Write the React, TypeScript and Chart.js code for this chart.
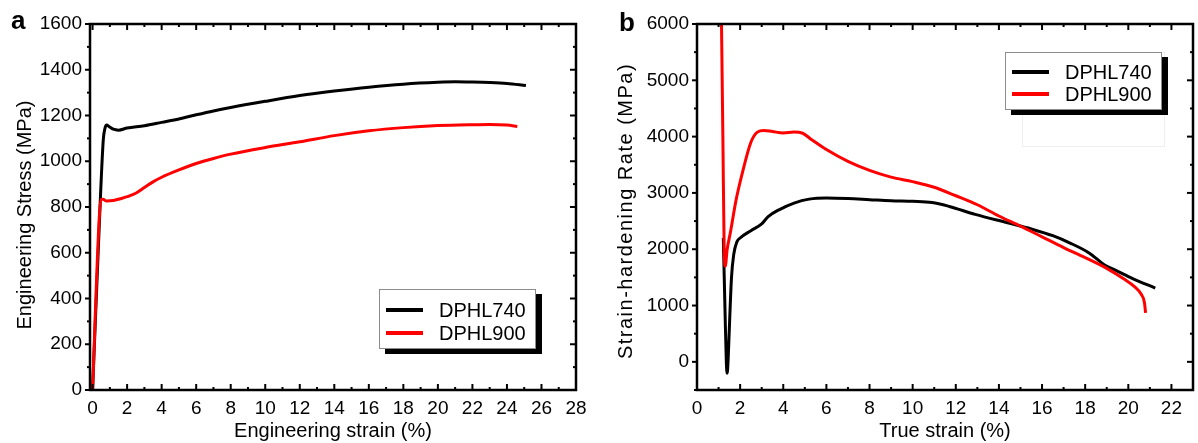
import React, { useEffect, useRef } from "react";
import { Chart, registerables } from "chart.js";

Chart.register(...registerables);

const FONT = "'Liberation Sans', Arial, Helvetica, sans-serif";

const seriesNames = ["DPHL740", "DPHL900"];
const seriesColors = ["#000000", "#ff0000"];

// ---- Panel a: engineering stress-strain ----
const engStrainTicks = [0, 2, 4, 6, 8, 10, 12, 14, 16, 18, 20, 22, 24, 26, 28];
const engStressTicks = [0, 200, 400, 600, 800, 1000, 1200, 1400, 1600];
const dphl740EngStrain = [0, 0.43, 0.62, 0.72, 0.82, 0.95, 1.2, 1.5, 2, 3, 4, 5, 6, 7, 8, 10, 12, 14, 16, 18, 20, 21, 22, 23, 24, 25.1];
const dphl740EngStress = [0, 800, 1094, 1145, 1158, 1152, 1140, 1136, 1145, 1155, 1170, 1185, 1203, 1220, 1235, 1262, 1287, 1307, 1324, 1337, 1345, 1347, 1346, 1344, 1340, 1331];
const dphl900EngStrain = [0, 0.38, 0.5, 0.6, 0.8, 1.2, 1.6, 2, 2.5, 3, 3.5, 4, 5, 6, 7, 8, 10, 12, 14, 16, 18, 20, 22, 23, 24, 24.6];
const dphl900EngStress = [0, 744, 832, 834, 826, 828, 836, 845, 860, 885, 910, 930, 962, 990, 1012, 1031, 1060, 1085, 1112, 1133, 1147, 1156, 1160, 1161, 1158, 1152];

// ---- Panel b: strain-hardening rate ----
const trueStrainTicks = [0, 2, 4, 6, 8, 10, 12, 14, 16, 18, 20, 22];
const hardeningTicks = [0, 1000, 2000, 3000, 4000, 5000, 6000];
const dphl740TrueStrain = [1.22, 1.3, 1.36, 1.4, 1.45, 1.52, 1.6, 1.7, 1.85, 2.0, 2.5, 3.0, 3.3, 3.8, 4.5, 5.2, 6.0, 7, 8, 9, 10, 10.9, 11.7, 12.9, 14.4, 15.5, 16.5, 17.3, 18.2, 18.9, 19.4, 20.2, 21.25];
const dphl740Hardening = [2200, 900, 0, -200, 100, 800, 1500, 1900, 2130, 2200, 2330, 2450, 2580, 2700, 2820, 2890, 2910, 2900, 2880, 2860, 2850, 2830, 2760, 2620, 2470, 2360, 2240, 2110, 1930, 1720, 1630, 1480, 1310];
const dphl900TrueStrain = [1.12, 1.2, 1.26, 1.31, 1.4, 1.55, 1.8, 2.1, 2.5, 2.8, 3.1, 3.5, 4.0, 4.5, 4.9, 5.3, 6, 7, 8, 9, 10, 11, 12, 13, 14, 15, 16, 17, 18, 19, 19.8, 20.3, 20.6, 20.75, 20.8];
const dphl900Hardening = [6500, 4000, 2000, 1700, 2000, 2300, 2850, 3350, 3900, 4080, 4110, 4090, 4065, 4080, 4060, 3950, 3770, 3560, 3400, 3280, 3200, 3100, 2950, 2790, 2590, 2410, 2220, 2030, 1850, 1660, 1470, 1330, 1200, 1050, 870];

const makePoints = (xs: number[], ys: number[]) => xs.map((x, i) => ({ x, y: ys[i] }));

const framePlugin = {
  id: "frameTicks",
  afterDatasetsDraw(chart: any, _args: any, o: any) {
    const { ctx, chartArea } = chart;
    const { left, right, top, bottom } = chartArea;
    const xs = chart.scales.x;
    const ys = chart.scales.y;
    ctx.save();
    ctx.strokeStyle = "#000";
    ctx.lineCap = "butt";
    const seg = (x1: number, y1: number, x2: number, y2: number) => {
      ctx.beginPath();
      ctx.moveTo(x1, y1);
      ctx.lineTo(x2, y2);
      ctx.stroke();
    };
    ctx.lineWidth = 2;
    // x ticks (inward on bottom & top)
    for (let v = o.xFrom; v <= o.xTo + 1e-9; v += o.xMinor) {
      const p = xs.getPixelForValue(v);
      if (p < left - 0.5 || p > right + 0.5) continue;
      const major = Math.abs(v / o.xMajor - Math.round(v / o.xMajor)) < 1e-6;
      const len = major ? 6 : 3;
      seg(p, bottom, p, bottom - len);
      seg(p, top, p, top + len);
    }
    // y ticks: outward on left, inward on right
    for (let v = o.yFrom; v <= o.yTo + 1e-9; v += o.yMinor) {
      const p = ys.getPixelForValue(v);
      if (p < top - 0.5 || p > bottom + 0.5) continue;
      const major = Math.abs(v / o.yMajor - Math.round(v / o.yMajor)) < 1e-6;
      seg(left - (major ? 5 : 3), p, left, p);
      seg(right, p, right - (major ? 6 : 3), p);
    }
    ctx.lineWidth = 2.5;
    ctx.strokeRect(left, top, right - left, bottom - top);

    // y title
    ctx.fillStyle = "#000";
    ctx.font = `20px ${FONT}`;
    ctx.save();
    ctx.translate(o.yTitleX, o.yTitleY);
    ctx.rotate(-Math.PI / 2);
    ctx.textAlign = "center";
    ctx.textBaseline = "middle";
    if ("letterSpacing" in ctx) (ctx as any).letterSpacing = o.yTitleSpacing;
    ctx.fillText(o.yTitle, 0, 0);
    if ("letterSpacing" in ctx) (ctx as any).letterSpacing = "0px";
    ctx.restore();

    // panel label
    ctx.font = `bold 26px ${FONT}`;
    ctx.textAlign = "left";
    ctx.textBaseline = "alphabetic";
    ctx.fillText(o.panel, o.panelX, o.panelY);

    // legend with drop shadow
    const lx = o.legX, ly = o.legY, lw = 157, lh = o.legH;
    if (o.ghost) {
      ctx.strokeStyle = "#eeeeee";
      ctx.lineWidth = 1;
      ctx.strokeRect(lx + 17.5, ly + 0.5, 142, 94);
    }
    ctx.fillStyle = "#000";
    ctx.fillRect(lx + 6, ly + 5, lw, lh);
    ctx.fillStyle = "#fff";
    ctx.fillRect(lx, ly, lw, lh);
    ctx.strokeStyle = "#8c8c8c";
    ctx.lineWidth = 1;
    ctx.strokeRect(lx + 0.5, ly + 0.5, lw - 1, lh - 1);
    chart.data.datasets.forEach((ds: any, i: number) => {
      const yy = ly + o.legRow0 + i * o.legRowGap;
      ctx.strokeStyle = ds.borderColor;
      ctx.lineWidth = 4;
      seg(lx + 7, yy, lx + 44, yy);
      ctx.fillStyle = "#000";
      ctx.font = `20px ${FONT}`;
      ctx.textBaseline = "middle";
      ctx.textAlign = "left";
      ctx.fillText(ds.label, lx + 60, yy + 1);
    });
    ctx.restore();
  },
};

function buildConfig(p: any): any {
  const tickFont = { family: FONT, size: 19 };
  const plain = (v: any) => String(v);
  return {
    type: "line",
    data: {
      datasets: [
        {
          label: seriesNames[0],
          data: makePoints(p.x740, p.y740),
          borderColor: seriesColors[0],
          backgroundColor: seriesColors[0],
          borderWidth: 3,
          pointRadius: 0,
          fill: false,
          cubicInterpolationMode: "monotone",
          order: 1,
        },
        {
          label: seriesNames[1],
          data: makePoints(p.x900, p.y900),
          borderColor: seriesColors[1],
          backgroundColor: seriesColors[1],
          borderWidth: 3,
          pointRadius: 0,
          fill: false,
          cubicInterpolationMode: "monotone",
          order: 0,
        },
      ],
    },
    options: {
      responsive: false,
      animation: false,
      devicePixelRatio: 1,
      layout: { padding: { left: 0, top: 24, right: p.rightPad, bottom: 0 } },
      plugins: {
        legend: { display: false },
        tooltip: { enabled: false },
        frameTicks: p.frame,
      },
      scales: {
        x: {
          type: "linear",
          min: p.xMin,
          max: p.xMax,
          afterBuildTicks: (s: any) => {
            s.ticks = p.xTicks.map((v: number) => ({ value: v }));
          },
          afterFit: (s: any) => {
            s.height = 53;
          },
          grid: { display: false, drawTicks: false },
          border: { display: false },
          ticks: { font: tickFont, color: "#000", padding: 7, maxRotation: 0, autoSkip: false, callback: plain },
          title: {
            display: true,
            text: p.xTitle,
            color: "#000",
            font: { family: FONT, size: 20 },
            padding: 0,
          },
        },
        y: {
          type: "linear",
          min: p.yMin,
          max: p.yMax,
          afterBuildTicks: (s: any) => {
            s.ticks = p.yTicks.map((v: number) => ({ value: v }));
          },
          afterFit: (s: any) => {
            s.width = p.yWidth;
          },
          grid: { display: false, drawTicks: false },
          border: { display: false },
          ticks: { font: tickFont, color: "#000", padding: 8, autoSkip: false, callback: plain },
          title: { display: false },
        },
      },
    },
    plugins: [framePlugin],
  };
}

const configA = () =>
  buildConfig({
    x740: dphl740EngStrain,
    y740: dphl740EngStress,
    x900: dphl900EngStrain,
    y900: dphl900EngStress,
    xMin: -0.15,
    xMax: 28,
    yMin: 0,
    yMax: 1600,
    xTicks: engStrainTicks,
    yTicks: engStressTicks,
    xTitle: "Engineering strain (%)",
    yWidth: 90,
    rightPad: 24,
    frame: {
      xFrom: 0, xTo: 28, xMinor: 1, xMajor: 2,
      yFrom: 0, yTo: 1600, yMinor: 100, yMajor: 200,
      yTitle: "Engineering Stress (MPa)", yTitleX: 25, yTitleY: 215, yTitleSpacing: "0px",
      panel: "a", panelX: 11, panelY: 29,
      legX: 379, legY: 289, legH: 60, legRow0: 21, legRowGap: 23, ghost: false,
    },
  });

const configB = () =>
  buildConfig({
    x740: dphl740TrueStrain,
    y740: dphl740Hardening,
    x900: dphl900TrueStrain,
    y900: dphl900Hardening,
    xMin: 0,
    xMax: 23,
    yMin: -500,
    yMax: 6000,
    xTicks: trueStrainTicks,
    yTicks: hardeningTicks,
    xTitle: "True strain (%)",
    yWidth: 97,
    rightPad: 5,
    frame: {
      xFrom: 0, xTo: 23, xMinor: 1, xMajor: 2,
      yFrom: -500, yTo: 6000, yMinor: 500, yMajor: 1000,
      yTitle: "Strain-hardening Rate (MPa)", yTitleX: 26, yTitleY: 211, yTitleSpacing: "1.5px",
      panel: "b", panelX: 19, panelY: 31,
      legX: 405, legY: 52, legH: 58, legRow0: 20, legRowGap: 22, ghost: true,
    },
  });

function Panel({ make, left, width }: { make: () => any; left: number; width: number }) {
  const ref = useRef<HTMLCanvasElement>(null);
  useEffect(() => {
    const chart = new Chart(ref.current as HTMLCanvasElement, make());
    return () => chart.destroy();
  }, []);
  return (
    <canvas
      ref={ref}
      width={width}
      height={443}
      style={{ position: "absolute", left, top: 0, width, height: 443, display: "block" }}
    />
  );
}

export default function App() {
  return (
    <div
      style={{
        position: "absolute",
        left: 0,
        top: 0,
        width: 1198,
        height: 443,
        background: "#fff",
        overflow: "hidden",
      }}
    >
      <Panel make={configA} left={0} width={600} />
      <Panel make={configB} left={600} width={598} />
    </div>
  );
}
